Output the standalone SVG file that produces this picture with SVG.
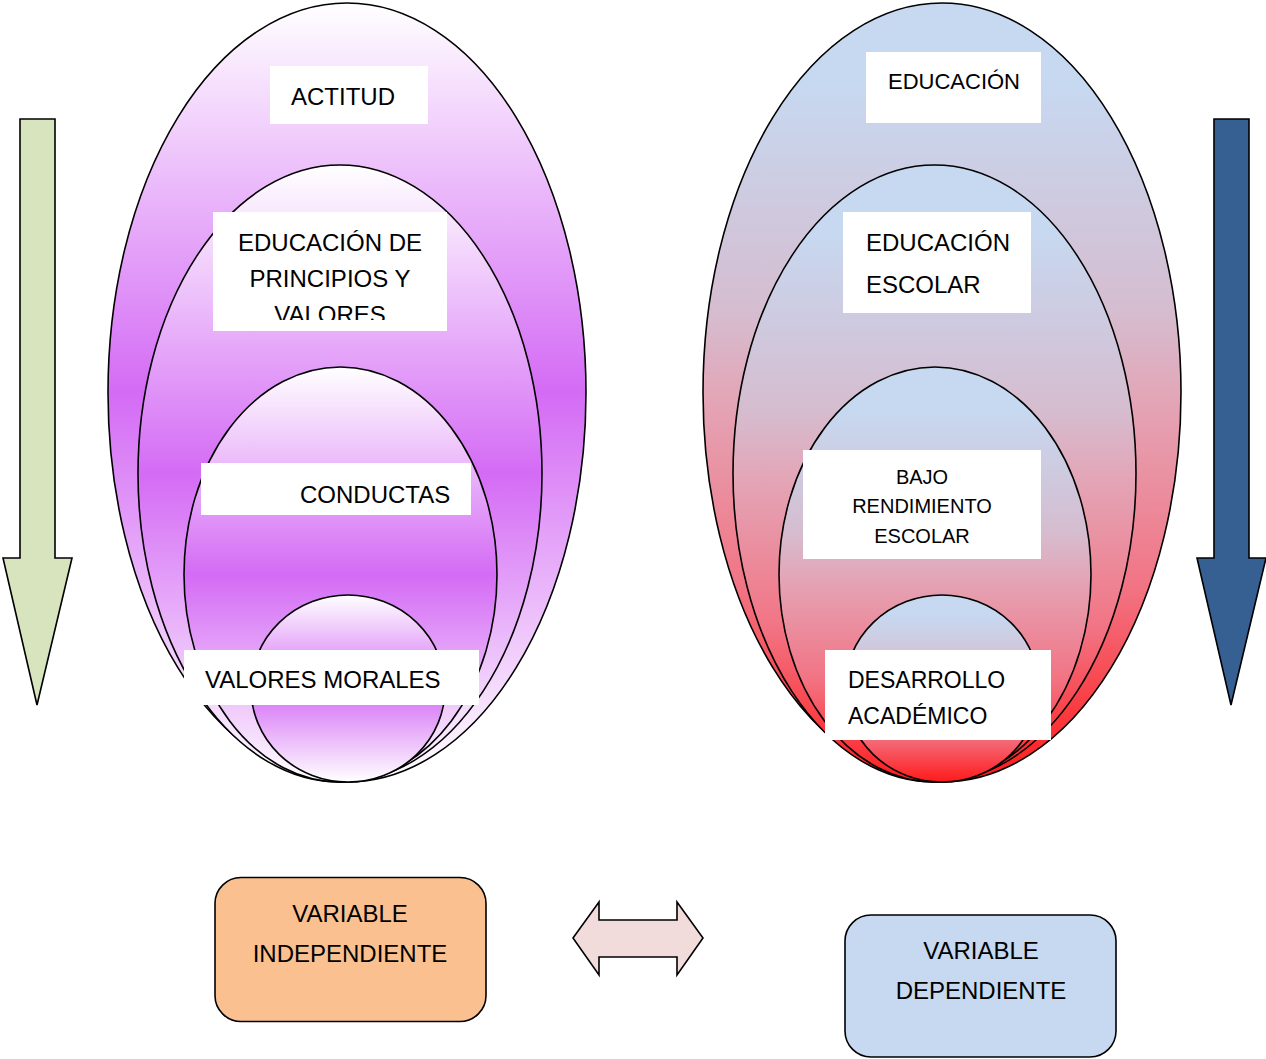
<svg xmlns="http://www.w3.org/2000/svg" width="1266" height="1059" viewBox="0 0 1266 1059">
<defs>
<linearGradient id="gp" x1="0" y1="0" x2="0" y2="1">
<stop offset="0" stop-color="#ffffff"/>
<stop offset="0.5" stop-color="#d46bf5"/>
<stop offset="1" stop-color="#ffffff"/>
</linearGradient>
<linearGradient id="gr" x1="0" y1="0" x2="0" y2="1">
<stop offset="0" stop-color="#c6d9f1"/>
<stop offset="0.1" stop-color="#c6d9f1"/>
<stop offset="0.4" stop-color="#d6bccf"/>
<stop offset="0.52" stop-color="#e4a3b4"/>
<stop offset="0.75" stop-color="#f27484"/>
<stop offset="1" stop-color="#ff1a1a"/>
</linearGradient>
<clipPath id="clipVal"><rect x="213" y="212" width="234" height="108"/></clipPath>
</defs>
<style>
.ell{stroke:#000;stroke-width:1.6}
.lbl{fill:#fff}
text{font-family:"Liberation Sans",Arial,sans-serif;font-size:24px;fill:#000}
.arrow{stroke:#000;stroke-width:1.6;stroke-linejoin:miter}
.box{stroke:#000;stroke-width:1.6}
</style>

<g id="left-arrow">
<polygon class="arrow" fill="#d7e4bd" points="20,119 55,119 55,558 72,558 37,705 3,558 20,558"/>
</g>
<g id="right-arrow">
<polygon class="arrow" fill="#366092" points="1214,119 1249,119 1249,558 1266,558 1231,705 1197,558 1214,558"/>
</g>

<g id="actitud">
<ellipse class="ell" fill="url(#gp)" cx="347" cy="392.5" rx="239" ry="389.5"/>
</g>
<g id="educacion-principios">
<ellipse class="ell" fill="url(#gp)" cx="340" cy="473.5" rx="202" ry="308.5"/>
</g>
<g id="conductas">
<ellipse class="ell" fill="url(#gp)" cx="340.5" cy="574.5" rx="156.5" ry="207.5"/>
</g>
<g id="valores-morales">
<ellipse class="ell" fill="url(#gp)" cx="348" cy="688.5" rx="97" ry="93.5"/>
</g>

<g id="educacion">
<ellipse class="ell" fill="url(#gr)" cx="942" cy="392.5" rx="239" ry="389.5"/>
</g>
<g id="educacion-escolar">
<ellipse class="ell" fill="url(#gr)" cx="934.5" cy="473.5" rx="201.5" ry="308.5"/>
</g>
<g id="bajo-rendimiento">
<ellipse class="ell" fill="url(#gr)" cx="935" cy="574.5" rx="156" ry="207.5"/>
</g>
<g id="desarrollo-academico">
<ellipse class="ell" fill="url(#gr)" cx="942" cy="688.5" rx="97" ry="93.5"/>
</g>

<g id="labels-left">
<rect class="lbl" x="270" y="66" width="158" height="58"/>
<text x="291" y="105">ACTITUD</text>
<rect class="lbl" x="213" y="212" width="234" height="119"/>
<g clip-path="url(#clipVal)">
<text x="330" y="251" text-anchor="middle">EDUCACIÓN DE</text>
<text x="330" y="287" text-anchor="middle">PRINCIPIOS Y</text>
<text x="330" y="323" text-anchor="middle">VALORES</text>
</g>
<rect class="lbl" x="201" y="463" width="270" height="52"/>
<text x="300" y="503">CONDUCTAS</text>
<rect class="lbl" x="184" y="650" width="295" height="55"/>
<text x="205" y="688">VALORES MORALES</text>
</g>

<g id="labels-right">
<rect class="lbl" x="866" y="52" width="175" height="71"/>
<text x="888" y="89" style="font-size:22px">EDUCACIÓN</text>
<rect class="lbl" x="843" y="212" width="188" height="101"/>
<text x="866" y="251">EDUCACIÓN</text>
<text x="866" y="293">ESCOLAR</text>
<rect class="lbl" x="803" y="450" width="238" height="109"/>
<text x="922" y="484" text-anchor="middle" style="font-size:20px">BAJO</text>
<text x="922" y="513" text-anchor="middle" style="font-size:20px">RENDIMIENTO</text>
<text x="922" y="543" text-anchor="middle" style="font-size:20px">ESCOLAR</text>
<rect class="lbl" x="825" y="650" width="226" height="90"/>
<text x="848" y="688" style="font-size:23px">DESARROLLO</text>
<text x="848" y="724" style="font-size:23px">ACADÉMICO</text>
</g>

<g id="variable-independiente">
<rect class="box" x="215" y="877.5" width="271" height="144" rx="26" fill="#fac090"/>
<text x="350" y="922" text-anchor="middle">VARIABLE</text>
<text x="350" y="962" text-anchor="middle">INDEPENDIENTE</text>
</g>

<g id="variable-dependiente">
<rect class="box" x="845" y="915" width="271" height="142" rx="26" fill="#c6d9f1"/>
<text x="981" y="959" text-anchor="middle">VARIABLE</text>
<text x="981" y="999" text-anchor="middle">DEPENDIENTE</text>
</g>

<g id="connectors">
<polygon class="arrow" fill="#f2dcdb" points="573,938 599,902 599,920 677,920 677,902 703,938 677,975 677,957 599,957 599,975"/>
</g>
</svg>
